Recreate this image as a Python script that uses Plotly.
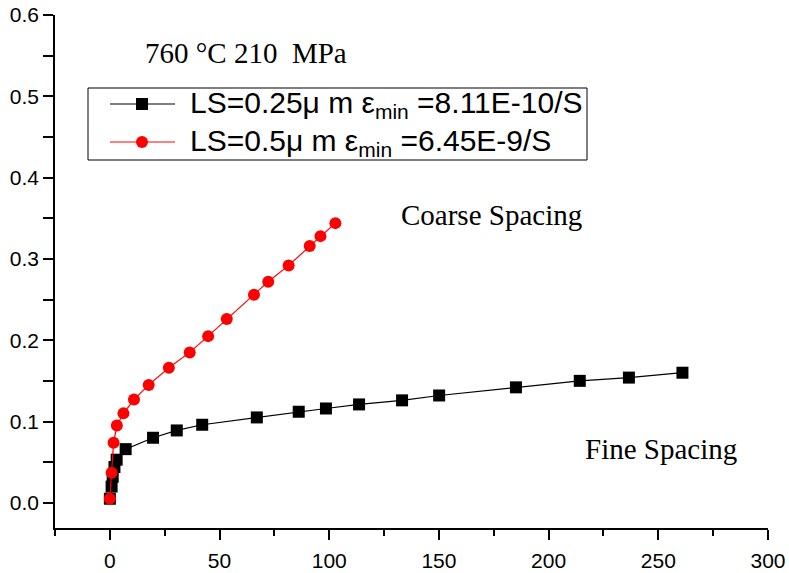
import plotly.graph_objects as go

# Creep strain vs time, 760 °C / 210 MPa, two lamellar spacings
fine_time = [0, 0.8, 1.3, 2.1, 3.1, 7.2, 19.7, 30.5, 42.1, 67.0, 86.1, 98.5,
             113.6, 133.2, 150.1, 185.1, 214.2, 236.6, 261.0]
fine_strain = [0.005, 0.020, 0.032, 0.044, 0.053, 0.066, 0.080, 0.089, 0.096,
               0.105, 0.112, 0.116, 0.121, 0.126, 0.132, 0.142, 0.150, 0.154, 0.160]

coarse_time = [0, 0.8, 1.7, 3.2, 6.2, 11.0, 17.7, 26.9, 36.4, 44.8, 53.3,
               65.7, 72.2, 81.5, 91.1, 96.0, 102.8]
coarse_strain = [0.005, 0.037, 0.074, 0.095, 0.110, 0.127, 0.145, 0.166, 0.185,
                 0.205, 0.226, 0.256, 0.272, 0.292, 0.316, 0.328, 0.344]

x_ticks = [0, 50, 100, 150, 200, 250, 300]
y_ticks = [0.0, 0.1, 0.2, 0.3, 0.4, 0.5, 0.6]

legend_labels = ["LS=0.25\u03bc m \u03b5<sub>min</sub> =8.11E-10/S",
                 "LS=0.5\u03bc m \u03b5<sub>min</sub> =6.45E-9/S"]
condition_label = "760 \u00b0C 210  MPa"

W, H = 789, 573
ML, MR, MT, MB = 55, 21, 15, 45
PW, PH = W - ML - MR, H - MT - MB


def px(x):
    return (x - ML) / PW


def py(y):
    return (H - MB - y) / PH


fig = go.Figure()
fig.add_trace(go.Scatter(
    x=fine_time, y=fine_strain, mode="lines+markers",
    line=dict(color="black", width=1.2),
    marker=dict(symbol="square", size=12, color="black"),
    showlegend=False))
fig.add_trace(go.Scatter(
    x=coarse_time, y=coarse_strain, mode="lines+markers",
    line=dict(color="#ff0000", width=1.2),
    marker=dict(symbol="circle", size=12, color="#ff0000"),
    showlegend=False))

shapes = []
annotations = []

# legend box drawn by hand
shapes.append(dict(type="rect", xref="paper", yref="paper",
                   x0=px(88), x1=px(587), y0=py(160), y1=py(88),
                   line=dict(color="black", width=1), fillcolor="white"))
rows = [(104, "black", "square"), (142, "#ff0000", "circle")]
for (ry, col, sym), lab in zip(rows, legend_labels):
    shapes.append(dict(type="line", xref="paper", yref="paper",
                       x0=px(110), x1=px(175), y0=py(ry), y1=py(ry),
                       line=dict(color=col, width=1)))
    r = 6
    shapes.append(dict(type="rect" if sym == "square" else "circle",
                       xref="paper", yref="paper",
                       x0=px(142 - r), x1=px(142 + r), y0=py(ry + r), y1=py(ry - r),
                       line=dict(color=col, width=0), fillcolor=col))
    annotations.append(dict(xref="paper", yref="paper", x=px(188), y=py(ry),
                            xanchor="left", yanchor="middle", showarrow=False,
                            text=lab,
                            font=dict(family="Liberation Sans, Arial", size=30,
                                      color="black")))

serif = dict(family="Liberation Serif, Times New Roman", size=29, color="black")
annotations.append(dict(x=62, y=0.553, text=condition_label, showarrow=False,
                        font=serif))
annotations.append(dict(x=174, y=0.354, text="Coarse Spacing", showarrow=False,
                        font=serif))
annotations.append(dict(x=251, y=0.066, text="Fine Spacing", showarrow=False,
                        font=serif))

axis_font = dict(family="Liberation Sans, Arial", size=21, color="black")
fig.update_layout(
    width=W, height=H,
    margin=dict(l=ML, r=MR, t=MT, b=MB),
    paper_bgcolor="white", plot_bgcolor="white",
    shapes=shapes, annotations=annotations,
    xaxis=dict(range=[-25, 300], tickvals=x_ticks, ticktext=[str(v) for v in x_ticks],
               automargin=False, showgrid=False, zeroline=False, showline=True,
               linecolor="black", linewidth=1.5, ticks="outside", ticklen=10,
               tickwidth=1.5, tickcolor="black", tickfont=axis_font,
               ticklabelstandoff=3,
               minor=dict(dtick=25, tick0=0, ticks="outside", ticklen=6,
                          tickwidth=1.5, tickcolor="black")),
    yaxis=dict(range=[-0.031, 0.6], tickvals=y_ticks,
               ticktext=[f"{v:.1f}" for v in y_ticks],
               automargin=False, showgrid=False, zeroline=False, showline=True,
               linecolor="black", linewidth=1.5, ticks="outside", ticklen=10,
               tickwidth=1.5, tickcolor="black", tickfont=axis_font,
               minor=dict(dtick=0.05, tick0=0, ticks="outside", ticklen=10,
                          tickwidth=1.5, tickcolor="black")),
)

fig.write_html("out.html")
